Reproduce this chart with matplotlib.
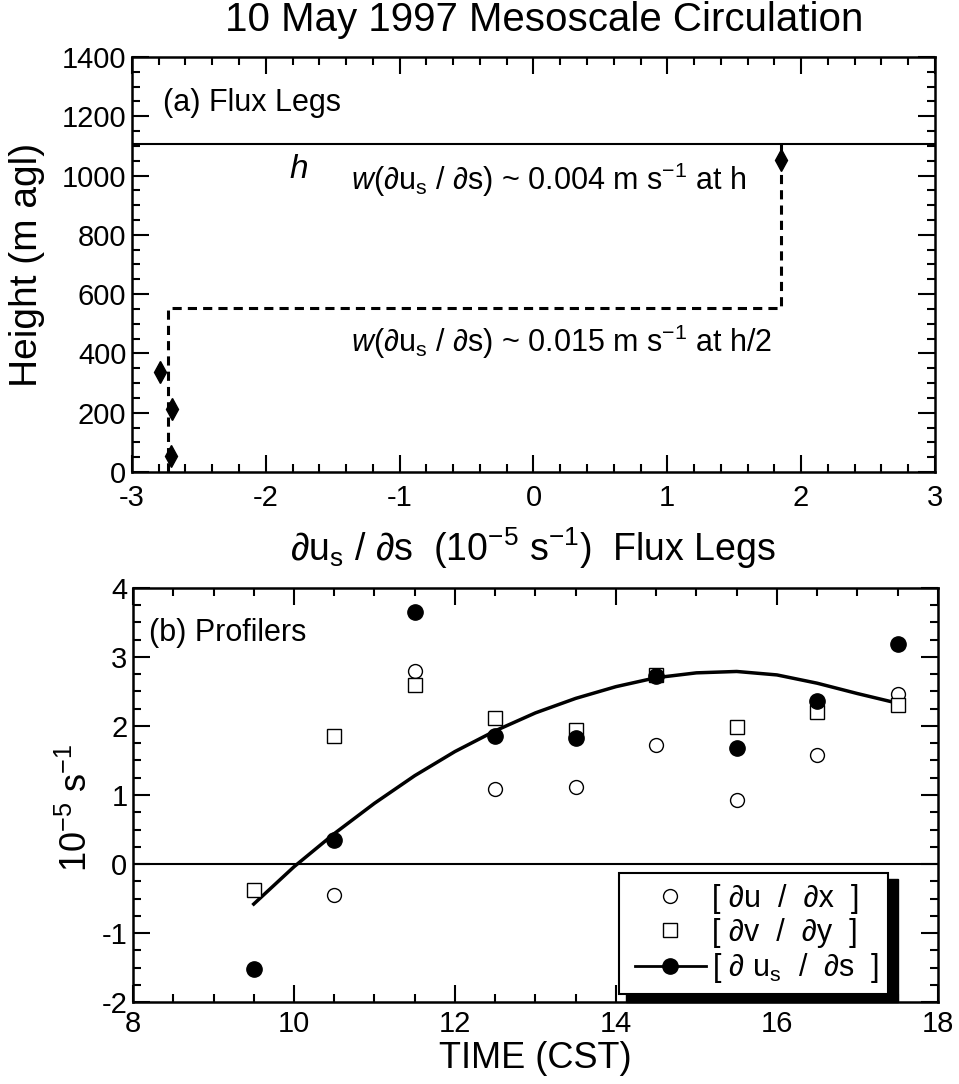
import matplotlib
matplotlib.use("Agg")
import matplotlib.pyplot as plt
from matplotlib.patches import Rectangle
from matplotlib.lines import Line2D
from matplotlib.ticker import MultipleLocator

plt.rcParams['font.family'] = ['Liberation Sans', 'DejaVu Sans']
plt.rcParams['mathtext.fontset'] = 'custom'
plt.rcParams['mathtext.rm'] = 'Liberation Sans'
plt.rcParams['mathtext.it'] = 'Liberation Sans:italic'
plt.rcParams['axes.unicode_minus'] = False

# ---------------- data ----------------
# (a) flux legs
flux_dus_ds = [-2.71, -2.70, -2.79, 1.85]
flux_height = [54, 212, 338, 1054]
h_height = 1105
step_x = [-2.73, -2.73, 1.85, 1.85]
step_y = [0, 552, 552, 1105]

# (b) profilers
times = [9.5, 10.5, 11.5, 12.5, 13.5, 14.5, 15.5, 16.5, 17.5]
dudx = [float('nan'), -0.45, 2.80, 1.08, 1.12, 1.73, 0.93, 1.58, 2.47]
dvdy = [-0.37, 1.85, 2.60, 2.12, 1.94, 2.74, 1.98, 2.20, 2.31]
dusds = [-1.52, 0.35, 3.65, 1.85, 1.82, 2.73, 1.68, 2.36, 3.19]
fit_t = [9.5, 10.0, 10.5, 11.0, 11.5, 12.0, 12.5, 13.0, 13.5, 14.0, 14.5,
         15.0, 15.5, 16.0, 16.5, 17.0, 17.5]
fit_v = [-0.58, -0.04, 0.44, 0.88, 1.28, 1.63, 1.93, 2.19, 2.40, 2.57, 2.70,
         2.77, 2.79, 2.74, 2.62, 2.47, 2.33]

# ---------------- figure ----------------
fig = plt.figure(figsize=(9.59, 10.84), dpi=100)
ax1 = fig.add_axes([0.1376, 0.5646, 0.8373, 0.3828])
ax2 = fig.add_axes([0.1387, 0.0756, 0.8393, 0.3820])

tick_fs = 21
for ax in (ax1, ax2):
    ax.tick_params(which='both', direction='in', top=True, right=True,
                   labelsize=tick_fs, width=1.5)
    ax.tick_params(which='major', length=12)
    ax.tick_params(which='minor', length=6)
    ax.tick_params(axis='y', which='major', pad=4)
    for s in ax.spines.values():
        s.set_linewidth(1.8)
ax1.tick_params(axis='x', which='major', pad=9)
ax2.tick_params(axis='x', which='major', pad=6)

# panel (a)
ax1.set_xlim(-3, 3)
ax1.set_ylim(0, 1400)
ax1.xaxis.set_major_locator(MultipleLocator(1))
ax1.xaxis.set_minor_locator(MultipleLocator(0.2))
ax1.yaxis.set_major_locator(MultipleLocator(200))
ax1.yaxis.set_minor_locator(MultipleLocator(50))
ax1.axhline(h_height, color='k', lw=1.5)
ax1.plot(step_x, step_y, color='k', lw=2.2, ls=(0, (3, 2)))
ax1.plot(flux_dus_ds, flux_height, ls='none', marker='d', ms=11,
         color='k', clip_on=False, zorder=5)
ax1.text(-2.77, 1244, '(a) Flux Legs', fontsize=22, va='center', ha='left')
ax1.text(-1.82, 1020, 'h', fontsize=24, style='italic', va='center', ha='left')
ax1.text(-1.36, 985, r'$w$(∂u$_\mathregular{s}$ / ∂s) ~ 0.004 m s$^\mathregular{-1}$ at h',
         fontsize=22, va='center', ha='left')
ax1.text(-1.36, 440, r'$w$(∂u$_\mathregular{s}$ / ∂s) ~ 0.015 m s$^\mathregular{-1}$ at h/2',
         fontsize=22, va='center', ha='left')
ax1.set_ylabel('Height (m agl)', fontsize=28)
ax1.yaxis.set_label_coords(-0.108, 0.5)
ax1.set_xlabel(r'∂u$_\mathregular{s}$ / ∂s  (10$^\mathregular{-5}$ s$^\mathregular{-1}$)  Flux Legs',
               fontsize=27)
ax1.xaxis.set_label_coords(0.5, -0.128)
fig.text(0.567, 1 - 20 / 1084, '10 May 1997 Mesoscale Circulation',
         fontsize=29, ha='center', va='center')

# panel (b)
ax2.set_xlim(8, 18)
ax2.set_ylim(-2, 4)
ax2.xaxis.set_major_locator(MultipleLocator(2))
ax2.xaxis.set_minor_locator(MultipleLocator(0.5))
ax2.yaxis.set_major_locator(MultipleLocator(1))
ax2.yaxis.set_minor_locator(MultipleLocator(0.25))
ax2.axhline(0, color='k', lw=1.5)
ax2.plot(fit_t, fit_v, color='k', lw=2.5, zorder=3)
ax2.plot(times, dudx, ls='none', marker='o', ms=10, mfc='white', mec='k',
         mew=1.0, zorder=4)
ax2.plot(times, dvdy, ls='none', marker='s', ms=10, mfc='white', mec='k',
         mew=1.0, zorder=4)
ax2.plot(times, dusds, ls='none', marker='o', ms=11, color='k', zorder=5)
ax2.text(8.2, 3.35, '(b) Profilers', fontsize=22, va='center', ha='left')
ax2.set_xlabel('TIME (CST)', fontsize=26)
ax2.xaxis.set_label_coords(0.5, -0.093)
ax2.set_ylabel(r'10$^\mathregular{-5}$ s$^\mathregular{-1}$', fontsize=26)
ax2.yaxis.set_label_coords(-0.047, 0.47)

# legend box with heavy shadow
ax2.add_patch(Rectangle((0.612, 0.0), 0.338, 0.296, transform=ax2.transAxes,
                        facecolor='k', edgecolor='k', zorder=6, clip_on=False))
ax2.add_patch(Rectangle((0.604, 0.019), 0.334, 0.293, transform=ax2.transAxes,
                        facecolor='white', edgecolor='k', lw=1.5, zorder=7))
handles = [
    Line2D([], [], ls='none', marker='o', ms=10, mfc='white', mec='k', mew=1.0),
    Line2D([], [], ls='none', marker='s', ms=10, mfc='white', mec='k', mew=1.0),
    Line2D([], [], ls='-', color='k', lw=2.0, marker='o', ms=11),
]
labels = ['[ ∂u  /  ∂x  ]', '[ ∂v  /  ∂y  ]', r'[ ∂ u$_\mathregular{s}$  /  ∂s  ]']
leg = ax2.legend(handles, labels, loc='upper left', bbox_to_anchor=(0.624, 0.285),
                 bbox_transform=ax2.transAxes, frameon=False, fontsize=22,
                 borderpad=0, borderaxespad=0, handlelength=2.3,
                 handletextpad=0.2, labelspacing=0.12)
leg.set_zorder(8)

fig.savefig('out.png', dpi=100)
